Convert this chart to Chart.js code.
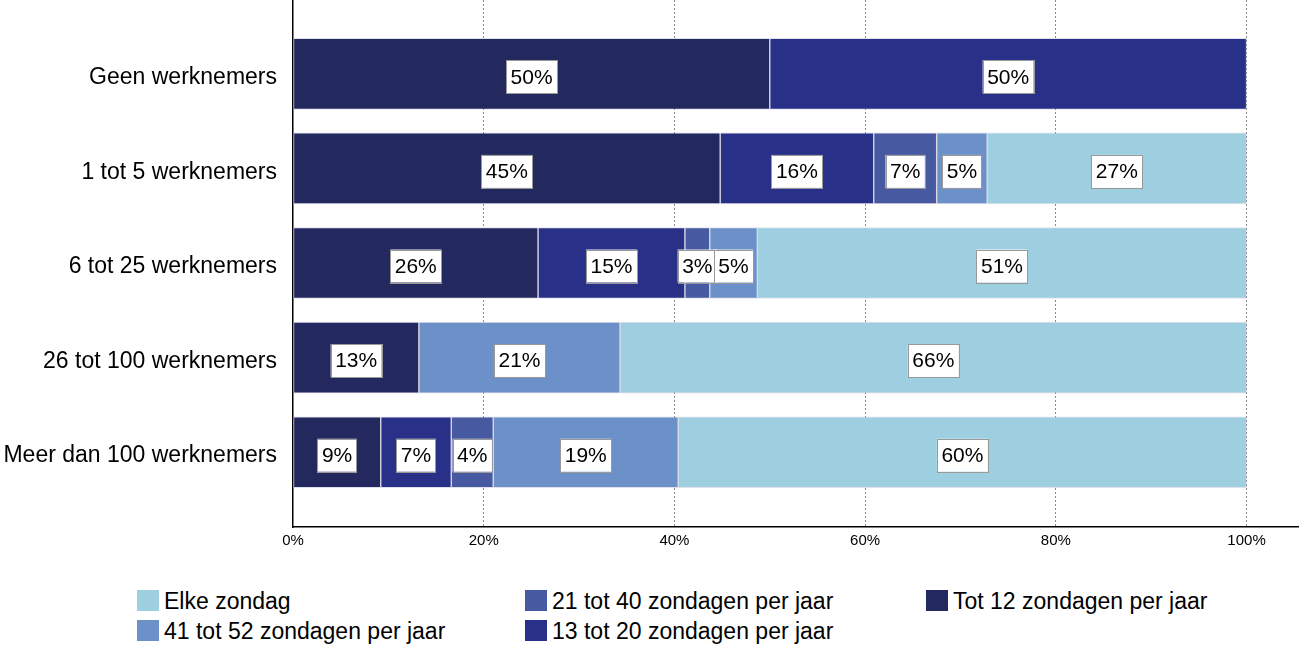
<!DOCTYPE html>
<html>
<head>
<meta charset="utf-8">
<script src="https://cdn.jsdelivr.net/npm/chart.js@4.4.0/dist/chart.umd.min.js"></script>
<style>
  body { margin: 0; background: #fff; font-family: "Liberation Sans", Arial, sans-serif; }
  #wrap { position: relative; width: 1299px; height: 659px; }
  #box { position: absolute; left: 0; top: 0; width: 1299px; height: 555px; }
  .item { position: absolute; font-size: 23px; color: #000; white-space: nowrap; line-height: 22px; }
  .item span.sw { display: inline-block; width: 22px; height: 21px; vertical-align: top; margin-right: 5px; }
</style>
</head>
<body>
<div id="wrap">
  <div id="box"><canvas id="chart"></canvas></div>
  <div id="legend"></div>
</div>
<script>
const categories = ['Geen werknemers', '1 tot 5 werknemers', '6 tot 25 werknemers', '26 tot 100 werknemers', 'Meer dan 100 werknemers'];

const seriesNames = ['Tot 12 zondagen per jaar', '13 tot 20 zondagen per jaar', '21 tot 40 zondagen per jaar', '41 tot 52 zondagen per jaar', 'Elke zondag'];
const seriesColors = ['#23285f', '#283088', '#4659a1', '#6b91c8', '#9ecfe0'];

const tot12 = [50, 44.8, 25.7, 13.2, 9.2];
const tot20 = [50, 16.1, 15.4, 0, 7.4];
const tot40 = [0, 6.6, 2.6, 0, 4.4];
const tot52 = [0, 5.3, 5.0, 21.1, 19.4];
const elke = [0, 27.2, 51.3, 65.7, 59.6];

const xTicks = [0, 20, 40, 60, 80, 100];

const allValues = [tot12, tot20, tot40, tot52, elke];

// value labels in white boxes
const boxLabels = {
  id: 'boxLabels',
  afterDatasetsDraw(chart) {
    const ctx = chart.ctx;
    ctx.save();
    ctx.font = '21px "Liberation Sans", Arial, sans-serif';
    ctx.textAlign = 'center';
    ctx.textBaseline = 'middle';
    chart.data.datasets.forEach((ds, di) => {
      const meta = chart.getDatasetMeta(di);
      meta.data.forEach((bar, i) => {
        const v = ds.data[i].x;
        if (!v) return;
        const cx = (bar.x + bar.base) / 2;
        const cy = bar.y + 3;
        const txt = Math.round(v) + '%';
        const w = ctx.measureText(txt).width + 9;
        const h = 33;
        ctx.fillStyle = '#fff';
        ctx.fillRect(cx - w / 2, cy - h / 2, w, h);
        ctx.strokeStyle = '#999';
        ctx.lineWidth = 1;
        ctx.strokeRect(Math.round(cx - w / 2) + 0.5, Math.round(cy - h / 2) + 0.5, Math.round(w), h);
        ctx.fillStyle = '#000';
        ctx.fillText(txt, cx, cy + 1);
      });
    });
    ctx.restore();
  }
};

const datasets = seriesNames.map((name, k) => ({
  label: name,
  data: allValues[k].map((v, i) => ({ x: v, y: i })),
  backgroundColor: seriesColors[k],
  borderColor: 'rgba(170,170,200,0.35)',
  borderWidth: 1,
  borderSkipped: false,
  barThickness: 71
}));

new Chart(document.getElementById('chart'), {
  type: 'bar',
  data: { datasets: datasets },
  plugins: [boxLabels],
  options: {
    indexAxis: 'y',
    responsive: true,
    maintainAspectRatio: false,
    animation: false,
    layout: { padding: 0 },
    plugins: {
      legend: { display: false },
      tooltip: { enabled: false }
    },
    scales: {
      x: {
        type: 'linear',
        stacked: true,
        min: 0,
        max: 105.5,
        afterBuildTicks: (axis) => { axis.ticks = xTicks.map(v => ({ value: v })); },
        ticks: {
          callback: (v) => v + '%',
          color: '#000',
          font: { family: '"Liberation Sans", Arial, sans-serif', size: 15 },
          padding: 5,
          maxRotation: 0
        },
        grid: {
          color: (c) => c.tick && c.tick.value === 0 ? 'rgba(0,0,0,0)' : '#8a8a8a',
          lineWidth: 1,
          drawTicks: false
        },
        border: { display: true, color: '#000', width: 1.5, dash: [2, 2] }
      },
      y: {
        type: 'linear',
        stacked: true,
        reverse: true,
        offset: false,
        min: -0.78,
        max: 4.79,
        // labels sit a few pixels below the bar centres in the original
        afterBuildTicks: (axis) => { axis.ticks = categories.map((c, i) => ({ value: i + 0.04 })); },
        afterFit: (axis) => { axis.width = 293; axis.paddingTop = 0; axis.paddingBottom = 0; },
        ticks: {
          callback: (v) => categories[Math.round(v)],
          color: '#000',
          font: { family: '"Liberation Sans", Arial, sans-serif', size: 23 },
          padding: 16
        },
        grid: { display: false, drawTicks: false },
        border: { display: true, color: '#000', width: 1.5 }
      }
    }
  }
});

// legend: column-major, two rows, starting from the last series
const legendCols = [137, 525, 926];
const legendRows = [590, 620];
const legendOrder = [4, 3, 2, 1, 0];
const legendEl = document.getElementById('legend');
legendOrder.forEach((k, n) => {
  const col = Math.floor(n / 2);
  const row = n % 2;
  const div = document.createElement('div');
  div.className = 'item';
  div.style.left = legendCols[col] + 'px';
  div.style.top = legendRows[row] + 'px';
  div.innerHTML = '<span class="sw" style="background:' + seriesColors[k] + '"></span>' + seriesNames[k];
  legendEl.appendChild(div);
});
</script>
</body>
</html>
